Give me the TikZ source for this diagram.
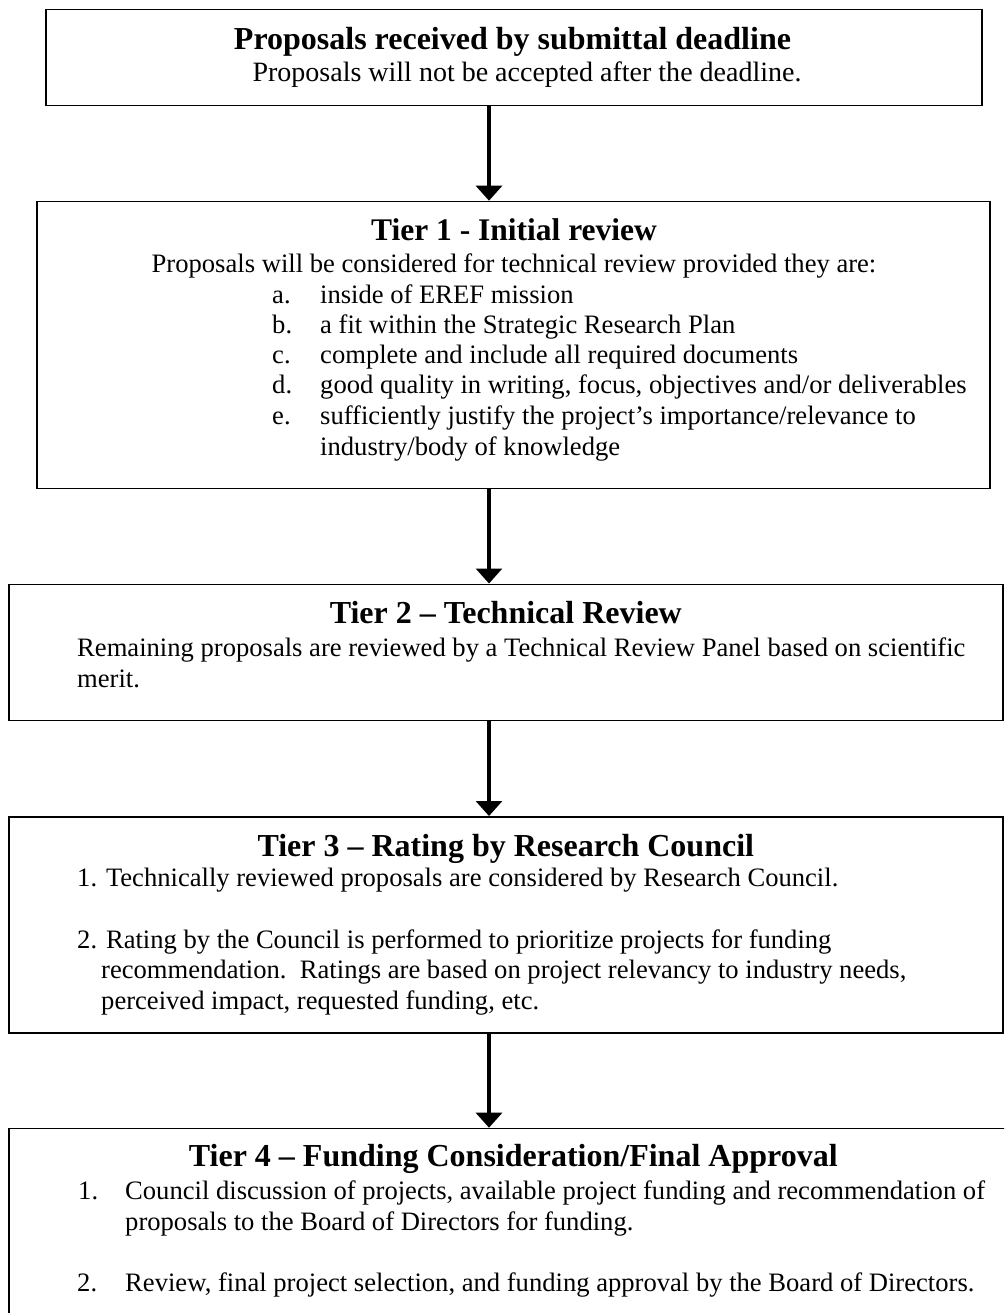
\documentclass[tikz,border=0pt]{standalone}
\usepackage{fontspec}
\setmainfont{Liberation Serif}
\usetikzlibrary{arrows.meta}
\newcommand{\bodyfont}{\fontsize{26.6}{30.6}\selectfont}
\newcommand{\ttlfont}{\bfseries\fontsize{32}{36}\selectfont}
\begin{document}
\begin{tikzpicture}[x=1pt,y=-1pt,
  box/.style={draw, line width=1.5pt, inner sep=0pt, anchor=north west},
  ttl/.style={inner sep=0pt, anchor=base, font=\ttlfont},
  txt/.style={inner sep=0pt, anchor=base west, font=\bodyfont},
  txtc/.style={inner sep=0pt, anchor=base, font=\bodyfont},
  arr/.style={line width=3.2pt, -{Triangle[width=26pt,length=15pt]}}]
\useasboundingbox (0,0) rectangle (1004,1313);
\clip (0,0) rectangle (1004,1313);
\coordinate (ax) at (489,0);
% boxes
\node[box, minimum width=936pt, minimum height=96pt] (b1) at (45,9) {};
\node[box, minimum width=953pt, minimum height=287pt] (b2) at (36,200.7) {};
\node[box, minimum width=993.7pt, minimum height=136pt] (b3) at (8.3,583.5) {};
\node[box, minimum width=993.7pt, minimum height=216pt] (b4) at (8.3,816) {};
\node[box, minimum width=1010pt, minimum height=260pt] (b5) at (8.3,1127.7) {};
% arrows
\draw[arr] (b1.south -| ax) -- (b2.north -| ax);
\draw[arr] (b2.south -| ax) -- (b3.north -| ax);
\draw[arr] (b3.south -| ax) -- (b4.north -| ax);
\draw[arr] (b4.south -| ax) -- (b5.north -| ax);
% box 1
\node[ttl] (t1) at (512.5,50) {Proposals received by submittal deadline};
\node[txtc, font=\fontsize{28}{32}\selectfont] (s1) at (527,82) {Proposals will not be accepted after the deadline.};
% tier 1
\node[ttl, font=\bfseries\fontsize{31.5}{36}\selectfont] (t2) at (514,241) {Tier 1 - Initial review};
\node[txtc] (s2) at (514,273) {Proposals will be considered for technical review provided they are:};
\node[txt] (la) at (272,303) {a.};
\node[txt] (ia) at (320,303) {inside of EREF mission};
\node[txt] (lb) at (272,333) {b.};
\node[txt] (ib) at (320,333) {a fit within the Strategic Research Plan};
\node[txt] (lc) at (272,363) {c.};
\node[txt] (ic) at (320,363) {complete and include all required documents};
\node[txt] (ld) at (272,393) {d.};
\node[txt] (id) at (320,393) {good quality in writing, focus, objectives and/or deliverables};
\node[txt] (le) at (272,424) {e.};
\node[txt] (ie) at (320,424) {sufficiently justify the project’s importance/relevance to};
\node[txt] (ie2) at (320,455) {industry/body of knowledge};
% tier 2
\node[ttl] (t3) at (505.8,623) {Tier 2 – Technical Review};
\node[txt] (s3a) at (77,656) {Remaining proposals are reviewed by a Technical Review Panel based on scientific};
\node[txt] (s3b) at (77,687) {merit.};
% tier 3
\node[ttl] (t4) at (505.8,856) {Tier 3 – Rating by Research Council};
\node[txt] (s4a) at (77,886.5) {1. Technically reviewed proposals are considered by Research Council.};
\node[txt] (s4b) at (77,948) {2. Rating by the Council is performed to prioritize projects for funding};
\node[txt] (s4c) at (101,978.5) {recommendation.\ \ Ratings are based on project relevancy to industry needs,};
\node[txt] (s4d) at (101,1009) {perceived impact, requested funding, etc.};
% tier 4
\node[ttl] (t5) at (513.3,1166.7) {Tier 4 – Funding Consideration/Final Approval};
\node[txt] (n1) at (78,1199) {1.};
\node[txt] (s5a) at (125,1199) {Council discussion of projects, available project funding and recommendation of};
\node[txt] (s5b) at (125,1230) {proposals to the Board of Directors for funding.};
\node[txt] (n2) at (77,1291.7) {2.};
\node[txt] (s5c) at (125,1291.7) {Review, final project selection, and funding approval by the Board of Directors.};
\end{tikzpicture}
\end{document}
